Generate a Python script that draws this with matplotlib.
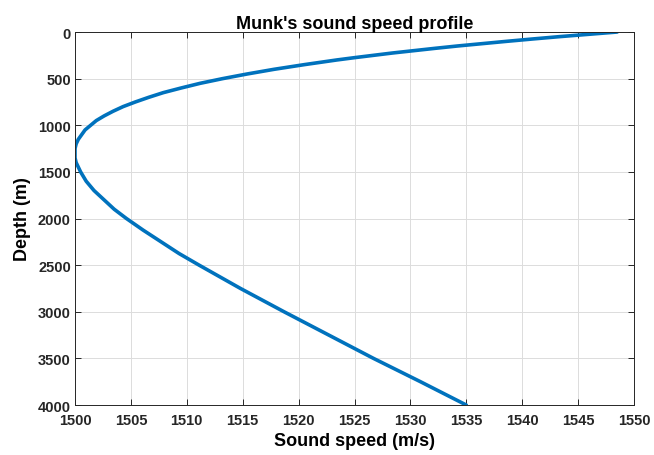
import matplotlib
matplotlib.use("Agg")
import matplotlib.pyplot as plt

# depth (m) and sound speed (m/s)
depth = [0, 25, 50, 75, 100, 125, 150, 175, 200, 225, 250, 275, 300, 350,
         400, 450, 500, 550, 600, 650, 700, 750, 800, 850, 900, 950, 1000,
         1050, 1100, 1150, 1200, 1250, 1300, 1350, 1400, 1450, 1500, 1600,
         1700, 1800, 1900, 2000, 2125, 2250, 2375, 2500, 2750, 3000, 3250,
         3500, 3750, 4000]
speed = [1548.5, 1545.9, 1543.3, 1540.9, 1538.6, 1536.4, 1534.2, 1532.2,
         1530.3, 1528.4, 1526.7, 1525.0, 1523.4, 1520.5, 1517.8, 1515.4,
         1513.2, 1511.2, 1509.5, 1507.9, 1506.6, 1505.4, 1504.3, 1503.4,
         1502.6, 1501.9, 1501.4, 1500.9, 1500.6, 1500.3, 1500.1, 1500.0,
         1500.0, 1500.0, 1500.1, 1500.3, 1500.5, 1501.0, 1501.7, 1502.6,
         1503.5, 1504.6, 1506.1, 1507.7, 1509.3, 1511.1, 1514.8, 1518.7,
         1522.7, 1526.7, 1530.9, 1535.0]

x_ticks = list(range(1500, 1551, 5))
y_ticks = list(range(0, 4001, 500))

plt.rcParams['font.family'] = ['Liberation Sans', 'DejaVu Sans']
plt.rcParams['font.weight'] = 'bold'

fig = plt.figure(figsize=(6.54, 4.56), dpi=100)
ax = fig.add_axes([0.1147, 0.1096, 0.8547, 0.818])

ax.plot(speed, depth, color='#0072BD', linewidth=2.6,
        solid_joinstyle='round', solid_capstyle='round')

ax.set_xlim(1500, 1550)
ax.set_ylim(4000, 0)
ax.set_xticks(x_ticks)
ax.set_yticks(y_ticks)
ax.grid(True, color='#dcdcdc', linewidth=0.7)
ax.set_axisbelow(True)

ax.tick_params(direction='in', top=True, right=True, labelsize=10.5,
               colors='#262626', length=4, width=0.7, pad=3)
ax.tick_params(axis='x', pad=6)
for lbl in ax.get_xticklabels() + ax.get_yticklabels():
    lbl.set_fontweight('bold')
for s in ax.spines.values():
    s.set_color('#262626')
    s.set_linewidth(0.7)

ax.set_title("Munk's sound speed profile", fontsize=13, fontweight='bold', pad=3)
ax.set_xlabel("Sound speed (m/s)", fontsize=13, fontweight='bold', labelpad=3)
ax.set_ylabel("Depth (m)", fontsize=13, fontweight='bold', labelpad=5)

fig.savefig("out.png", dpi=100)
